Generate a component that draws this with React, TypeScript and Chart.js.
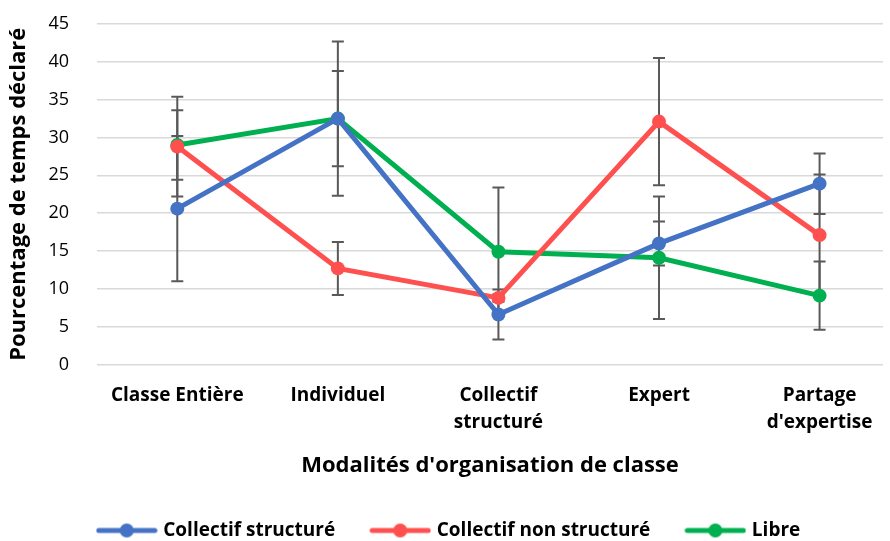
import React, { useEffect, useRef } from "react";
import { Chart, registerables } from "chart.js";

Chart.register(...registerables);

const categories: string[][] = [
  ["Classe Entière"],
  ["Individuel"],
  ["Collectif", "structuré"],
  ["Expert"],
  ["Partage", "d'expertise"],
];

const seriesNames = ["Collectif structuré", "Collectif non structuré", "Libre"];
const seriesColors = ["#4472C4", "#FF5050", "#00B050"];

const collectifStructure = [20.6, 32.5, 6.6, 16.0, 23.9];
const collectifNonStructure = [28.8, 12.7, 8.8, 32.1, 17.1];
const libre = [29.0, 32.5, 14.9, 14.1, 9.1];

const errCollectifStructure = [9.6, 10.2, 3.3, 2.9, 4.0];
const errCollectifNonStructure = [6.6, 3.5, 0.5, 8.4, 8.0];
const errLibre = [4.6, 6.3, 8.5, 8.1, 4.5];

const yTicks = [0, 5, 10, 15, 20, 25, 30, 35, 40, 45];

const FONT = "'Open Sans', Lato, sans-serif";

function legendImage(color: string): HTMLCanvasElement {
  const c = document.createElement("canvas");
  c.width = 62;
  c.height = 16;
  const ctx = c.getContext("2d")!;
  ctx.strokeStyle = color;
  ctx.lineWidth = 5;
  ctx.lineCap = "round";
  ctx.beginPath();
  ctx.moveTo(3, 8);
  ctx.lineTo(59, 8);
  ctx.stroke();
  ctx.fillStyle = color;
  ctx.beginPath();
  ctx.arc(31, 8, 7, 0, Math.PI * 2);
  ctx.fill();
  return c;
}

const errorBarPlugin = {
  id: "errorBars",
  afterLayout(chart: any) {
    if (chart.legend) {
      chart.legend.top += 9;
      chart.legend.bottom += 9;
      chart.legend.left += 5;
      chart.legend.right += 5;
    }
  },
  beforeDatasetsDraw(chart: any) {
    const ctx = chart.ctx;
    const yScale = chart.scales.y;
    ctx.save();
    ctx.strokeStyle = "#595959";
    ctx.lineWidth = 2;
    chart.data.datasets.forEach((ds: any, di: number) => {
      const meta = chart.getDatasetMeta(di);
      meta.data.forEach((pt: any, i: number) => {
        const v = ds.data[i].y;
        const e = ds.errors[i];
        const x = pt.x;
        const yt = yScale.getPixelForValue(v + e);
        const yb = yScale.getPixelForValue(v - e);
        ctx.beginPath();
        ctx.moveTo(x, yt);
        ctx.lineTo(x, yb);
        ctx.moveTo(x - 6, yt);
        ctx.lineTo(x + 6, yt);
        ctx.moveTo(x - 6, yb);
        ctx.lineTo(x + 6, yb);
        ctx.stroke();
      });
    });
    ctx.restore();
  },
};

export default function App() {
  const ref = useRef<HTMLCanvasElement>(null);
  useEffect(() => {
    if (!ref.current) return;
    const values = [collectifStructure, collectifNonStructure, libre];
    const errors = [errCollectifStructure, errCollectifNonStructure, errLibre];
    const images = seriesColors.map(legendImage);
    const chart = new Chart(ref.current, {
      type: "line",
      data: {
        datasets: seriesNames.map((name, si) => ({
          label: name,
          data: values[si].map((v, i) => ({ x: i, y: v })),
          errors: errors[si],
          borderColor: seriesColors[si],
          backgroundColor: seriesColors[si],
          borderWidth: 5,
          pointRadius: 7,
          pointHoverRadius: 7,
          pointBorderWidth: 0,
          pointStyle: "circle",
          tension: 0,
        })) as any,
      },
      options: {
        animation: false,
        responsive: false,
        layout: { padding: { top: 24, left: 0, right: 0, bottom: 0 } },
        plugins: {
          tooltip: { enabled: false },
          legend: {
            position: "bottom",
            labels: {
              usePointStyle: true,
              pointStyleWidth: 54,
              color: "#000",
              padding: 38,
              font: { family: FONT, size: 19, weight: "bold" },
              generateLabels: (ch: any) =>
                ch.data.datasets.map((ds: any, i: number) => ({
                  text: ds.label,
                  fillStyle: seriesColors[i],
                  strokeStyle: seriesColors[i],
                  lineWidth: 0,
                  pointStyle: images[i],
                  datasetIndex: i,
                  hidden: false,
                  fontColor: "#000",
                })),
            },
          },
        },
        scales: {
          x: {
            type: "linear",
            min: -0.5,
            max: 4.395,
            afterBuildTicks: (scale: any) => {
              scale.ticks = categories.map((_, i) => ({ value: i }));
            },
            afterFit: (scale: any) => {
              scale.height = 109.5;
              scale.paddingLeft = 0;
              scale.paddingRight = 0;
            },
            grid: { display: false, drawTicks: false },
            border: { display: false },
            ticks: {
              autoSkip: false,
              maxRotation: 0,
              padding: 18,
              color: "#000",
              font: { family: FONT, size: 19, weight: "bold", lineHeight: 1.42 },
              callback: (v: any) => categories[v] ?? "",
            },
            title: {
              display: true,
              text: "Modalités d'organisation de classe",
              color: "#000",
              font: { family: FONT, size: 22, weight: "bold" },
              padding: { top: 10, bottom: -5 },
            },
          },
          y: {
            min: 0,
            max: 45,
            afterBuildTicks: (scale: any) => {
              scale.ticks = yTicks.map((v) => ({ value: v }));
            },
            afterFit: (scale: any) => {
              scale.width = 97;
              scale.paddingTop = 0;
              scale.paddingBottom = 0;
            },
            grid: { color: "#D9D9D9", lineWidth: 1.5, drawTicks: false },
            border: { display: false },
            ticks: {
              padding: 28,
              color: "#000",
              font: { family: FONT, size: 18 },
            },
            title: {
              display: true,
              text: "Pourcentage de temps déclaré",
              color: "#000",
              font: { family: FONT, size: 22, weight: "bold" },
              padding: { top: 6, bottom: 0 },
            },
          },
        },
      },
      plugins: [errorBarPlugin],
    });
    return () => chart.destroy();
  }, []);
  return (
    <div style={{ position: "fixed", left: 0, top: 0, width: 890, height: 541, background: "#fff" }}>
      <canvas ref={ref} width={890} height={541} style={{ width: 890, height: 541 }} />
    </div>
  );
}
